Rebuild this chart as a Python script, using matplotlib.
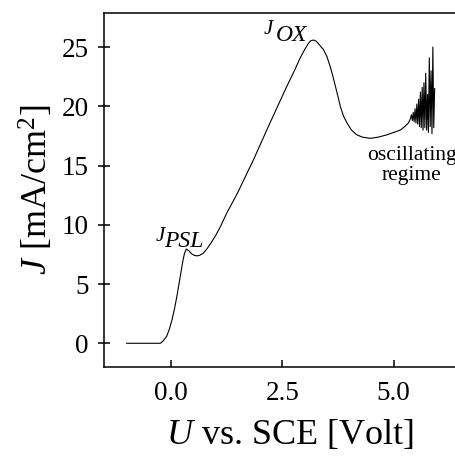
import matplotlib
matplotlib.use("Agg")
import matplotlib.pyplot as plt

plt.rcParams['font.family'] = ['Liberation Serif', 'DejaVu Serif']
plt.rcParams['mathtext.fontset'] = 'custom'
plt.rcParams['mathtext.rm'] = 'Liberation Serif'
plt.rcParams['mathtext.it'] = 'Liberation Serif:italic'

# main polarisation curve, U vs SCE [V] and J [mA/cm2]
U = [-1.0, -0.24, -0.18, -0.10, -0.04, 0.02, 0.08, 0.13, 0.18, 0.22, 0.26,
     0.30, 0.34, 0.40, 0.46, 0.52, 0.58, 0.64, 0.72, 0.80, 0.90, 1.00, 1.10,
     1.25, 1.48, 1.85, 2.22, 2.60, 2.78, 2.90, 3.00, 3.08, 3.14, 3.20, 3.26,
     3.33, 3.42, 3.50, 3.57, 3.63, 3.69, 3.75, 3.80, 3.87, 3.95, 4.05, 4.17,
     4.30, 4.47, 4.65, 4.85, 5.00, 5.15, 5.25, 5.33]
J = [0, 0, 0.2, 0.6, 1.2, 2.0, 3.0, 4.0, 5.1, 6.0, 6.9,
     7.6, 7.95, 7.8, 7.55, 7.42, 7.38, 7.42, 7.6, 7.95, 8.5, 9.1, 9.8,
     11.0, 12.6, 15.5, 18.6, 21.7, 23.1, 24.1, 24.8, 25.3, 25.55, 25.6, 25.5,
     25.2, 24.8, 24.2, 23.4, 22.6, 21.7, 20.8, 20.0, 19.2, 18.6, 18.0, 17.6,
     17.4, 17.3, 17.4, 17.6, 17.8, 18.0, 18.3, 18.6]

# oscillating part
U_osc = [5.37, 5.40, 5.42, 5.44, 5.46, 5.48, 5.50, 5.52, 5.54, 5.56, 5.58,
         5.60, 5.62, 5.64, 5.66, 5.68, 5.70, 5.72, 5.74, 5.76, 5.78, 5.80,
         5.82, 5.84, 5.86, 5.88, 5.90, 5.92]
J_osc = [18.9, 19.3, 18.8, 19.5, 18.7, 19.8, 18.6, 20.2, 18.5, 20.6, 18.3,
         21.2, 18.2, 21.6, 18.0, 22.0, 18.2, 22.8, 18.0, 21.0, 17.8, 24.1,
         18.3, 23.0, 17.7, 25.0, 18.2, 21.5]

fig = plt.figure(figsize=(4.56, 4.57), dpi=100)
ax = fig.add_axes([0.228, 0.197, 0.772, 0.775])

ax.plot(U + U_osc, J + J_osc, color='black', lw=0.8)

ax.set_xlim(-1.51, 6.40)
ax.set_ylim(-2.0, 27.9)
ax.set_xticks([0.0, 2.5, 5.0])
ax.set_xticklabels(['0.0', '2.5', '5.0'])
ax.set_yticks([0, 5, 10, 15, 20, 25])

ax.spines['right'].set_visible(False)
for s in ['left', 'top', 'bottom']:
    ax.spines[s].set_linewidth(1.1)

ax.tick_params(axis='x', direction='in', length=5, width=1.1, pad=10, labelsize=19.5)
ax.tick_params(axis='y', direction='inout', length=8, width=1.1, pad=7, labelsize=19.5)

ax.set_xlabel(r'$U$ vs. SCE [Volt]', fontsize=26, labelpad=9, x=0.528)
ax.set_ylabel(r'$J$ [mA/cm$^2$]', fontsize=26, labelpad=4)

# peak labels: J with a big italic subscript
ax.text(-0.35, 8.6, 'J', fontsize=15, style='italic')
ax.text(-0.15, 8.1, 'PSL', fontsize=17, style='italic')
ax.text(2.07, 26.1, 'J', fontsize=15, style='italic')
ax.text(2.36, 25.5, 'OX', fontsize=17, style='italic')
ax.text(5.40, 15.0, 'oscillating\nregime', fontsize=15.5, ha='center',
        va='center', linespacing=1.05)

plt.savefig('out.png', dpi=100)
